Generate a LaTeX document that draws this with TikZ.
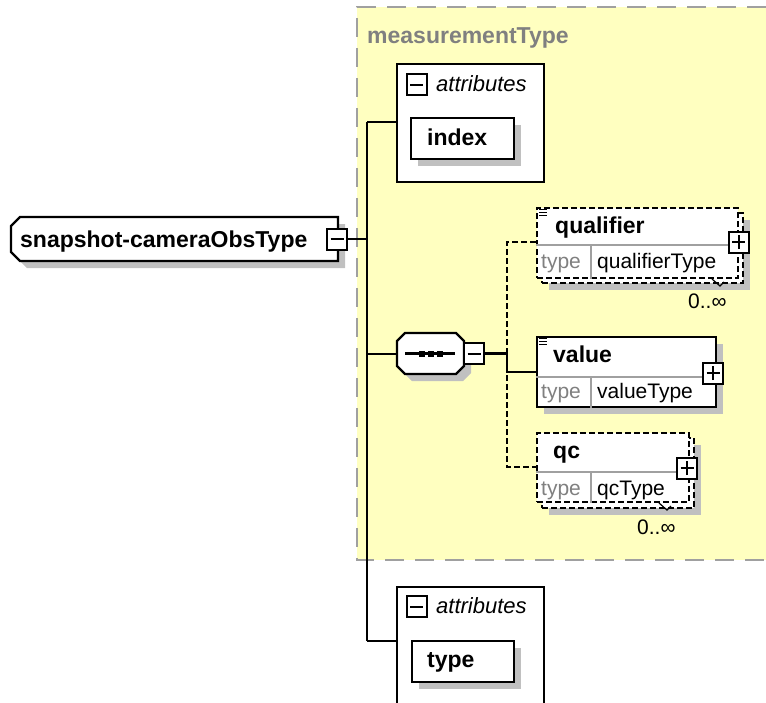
\documentclass[tikz,border=0pt]{standalone}
\usepackage{fontspec}
\setmainfont{Liberation Sans}
\usetikzlibrary{positioning,calc,shadows}
\definecolor{cPanel}{RGB}{255,255,192}
\definecolor{cPanelRim}{RGB}{160,160,160}
\definecolor{cShade}{RGB}{192,192,192}
\definecolor{cGreyText}{RGB}{128,128,128}
\definecolor{cRule}{RGB}{160,160,160}
\tikzset{
  rim/.style={draw=black, line width=2.2pt},
  shade7/.style={drop shadow={shadow xshift=7pt, shadow yshift=-7pt, fill=cShade, opacity=1}},
  elem/.style={rim, fill=white, anchor=north west, inner sep=0pt},
  optelem/.style={elem, dash pattern=on 6pt off 3pt},
  toggle/.style={draw=black, fill=white, line width=2pt, inner sep=0pt,
                 minimum width=20pt, minimum height=21pt},
  minus/.style={toggle, path picture={
      \draw[line width=2pt] ([xshift=3.5pt]path picture bounding box.west)
        -- ([xshift=-3.5pt]path picture bounding box.east);}},
  plus/.style={toggle, path picture={
      \draw[line width=2pt] ([xshift=3.5pt]path picture bounding box.west)
        -- ([xshift=-3.5pt]path picture bounding box.east);
      \draw[line width=2pt] ([yshift=3.5pt]path picture bounding box.south)
        -- ([yshift=-3.5pt]path picture bounding box.north);}},
  wire/.style={draw=black, line width=2.2pt},
  optwire/.style={wire, dash pattern=on 6pt off 3pt},
  rule/.style={draw=cRule, line width=1.8pt},
  bname/.style={font=\fontsize{23}{27}\selectfont\bfseries, anchor=base west, inner sep=0pt},
  tname/.style={font=\fontsize{21}{25}\selectfont, anchor=base west, inner sep=0pt},
  tkey/.style={tname, text=cGreyText},
  grp/.style={font=\fontsize{22}{26}\selectfont\itshape, anchor=base west, inner sep=0pt},
}
\newcommand{\complexmark}[1]{%
  \foreach \k in {0,1,2}
    \draw[line width=1.2pt] ($(#1.north west)+(3,{2.5+3*\k})$) -- ++(8,0);}

\begin{document}
\begin{tikzpicture}[x=1pt,y=-1pt]
\useasboundingbox (0,0) rectangle (766,702);

% measurementType panel
\fill[cPanel] (357,7) rectangle (766,560);
\draw[cPanelRim, line width=2pt, dash pattern=on 19pt off 11pt]
  (766,7) -- (357,7) -- (357,560) -- (766,560);
\node[bname, text=cGreyText] (panelName) at (367,43) {measurementType};

% root element
\draw[rim, fill=white, shade7] (20,217) -- (338,217) -- (338,261) -- (20,261)
  -- (11,252) -- (11,226) -- cycle;
\node[bname] (rootName) at (20,247) {snapshot-cameraObsType};
\node[minus] (rootMinus) at (337,239) {};

% attributes, top
\node[elem, minimum width=147pt, minimum height=118pt] (attrTop) at (396,63) {};
\node[minus, minimum height=21pt] (attrTopMinus) at (416.5,84.5) {};
\node[grp] (attrTopName) at (436,91) {attributes};
\node[elem, shade7, minimum width=103pt, minimum height=41pt] (indexAttr) at (410,117) {};
\node[bname] (indexName) at (427,145) {index};

% attributes, bottom
\node[elem, minimum width=147pt, minimum height=130pt] (attrBot) at (396,586) {};
\node[minus, minimum height=21pt] (attrBotMinus) at (416.5,606.5) {};
\node[grp] (attrBotName) at (436,613) {attributes};
\node[elem, shade7, minimum width=102pt, minimum height=41pt] (typeAttr) at (411,640) {};
\node[bname] (typeName) at (427,667) {type};

% sequence compositor
\draw[rim, fill=white, shade7] (405,333) -- (456,333) -- (464,341) -- (464,366)
  -- (456,374) -- (405,374) -- (397,366) -- (397,341) -- cycle;
\coordinate (seqIn) at (397,354);
\draw[wire] (405,353.5) -- (455,353.5);
\foreach \x in {422,431,440}
  \fill ({\x-3},350.5) rectangle ({\x+3},356.5);
\node[minus] (seqMinus) at (474,353.5) {};

% qualifier (optional, repeated)
\node[optelem, shade7, minimum width=201pt, minimum height=70pt] (qualBack) at (541,212) {};
\node[optelem, minimum width=201pt, minimum height=70pt] (qualifier) at (536,207) {};
\draw[rule] ($(qualifier.north west)+(0,38)$) -- ($(qualifier.north east)+(0,38)$);
\draw[rule] ($(qualifier.north west)+(55,38)$) -- ($(qualifier.south west)+(55,0)$);
\complexmark{qualifier}
\node[bname] (qualName) at (555,233) {qualifier};
\node[tkey] (qualKey) at (541,268) {type};
\node[tname] (qualType) at (597,268) {qualifierType};
\node[plus] (qualPlus) at (738.5,242) {};
\draw[line width=1.2pt] (712,279) -- (720,286) -- (724,282);
\node[tname] (qualMult) at (688,308) {0..∞};

% value
\node[elem, shade7, minimum width=179pt, minimum height=70pt] (value) at (536,336) {};
\draw[rule] ($(value.north west)+(0,41)$) -- ($(value.north east)+(0,41)$);
\draw[rule] ($(value.north west)+(55,41)$) -- ($(value.south west)+(55,0)$);
\complexmark{value}
\node[bname] (valueName) at (553,362) {value};
\node[tkey] (valueKey) at (541,398) {type};
\node[tname] (valueType) at (597,398) {valueType};
\node[plus] (valuePlus) at (713,373) {};

% qc (optional, repeated)
\node[optelem, shade7, minimum width=152pt, minimum height=70pt] (qcBack) at (541,437) {};
\node[optelem, minimum width=152pt, minimum height=69pt] (qc) at (536,432) {};
\draw[rule] ($(qc.north west)+(0,40)$) -- ($(qc.north east)+(0,40)$);
\draw[rule] ($(qc.north west)+(55,40)$) -- ($(qc.south west)+(55,0)$);
\node[bname] (qcName) at (553,458) {qc};
\node[tkey] (qcKey) at (541,495) {type};
\node[tname] (qcType) at (597,495) {qcType};
\node[plus] (qcPlus) at (687,468) {};
\draw[line width=1.2pt] (659,503) -- (667,510) -- (671,506);
\node[tname] (qcMult) at (637,534) {0..∞};

% connectors
\coordinate (spineTop) at (367,122);
\coordinate (spineBot) at (367,641);
\coordinate (choiceBar) at (507,353.5);
\coordinate (qualIn) at ($(qualifier.north west)+(0,35)$);
\coordinate (valueIn) at ($(value.north west)+(0,36)$);
\coordinate (qcIn) at ($(qc.north west)+(0,35)$);
\draw[wire] (rootMinus.east) -- (rootMinus.east -| spineTop);
\draw[wire] (spineTop) -- (spineBot);
\draw[wire] (spineTop) -- (spineTop -| attrTop.west);
\draw[wire] (seqIn -| spineTop) -- (seqIn);
\draw[wire] (spineBot) -- (spineBot -| attrBot.west);
\draw[wire] (seqMinus.east) -- (choiceBar);
\draw[optwire] (qualIn) -- (qualIn -| choiceBar) -- (qcIn -| choiceBar) -- (qcIn);
\draw[wire] (choiceBar) -- (choiceBar |- valueIn) -- (valueIn);
\end{tikzpicture}
\end{document}
